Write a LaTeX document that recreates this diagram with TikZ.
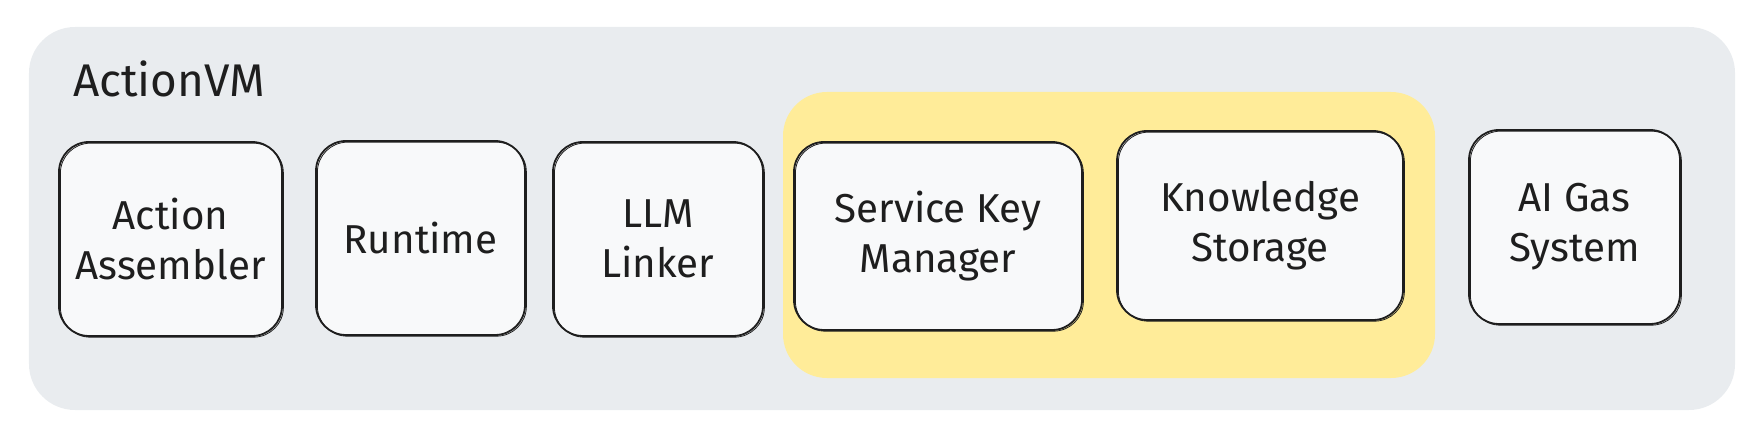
\documentclass[tikz,border=0pt]{standalone}
\usepackage{fontspec}
\setmainfont{Fira Sans}
\definecolor{vmgray}{HTML}{E9ECEF}
\definecolor{hiyellow}{HTML}{FFEC99}
\definecolor{boxfill}{HTML}{F8F9FA}
\definecolor{ink}{HTML}{1E1E1E}
\tikzset{
  container/.style={fill=vmgray, draw=none, rounded corners=46bp, inner sep=0, outer sep=0},
  highlight/.style={fill=hiyellow, draw=none, rounded corners=44bp, inner sep=0, outer sep=0},
  compbox/.style={fill=boxfill, draw=ink, line width=1.8bp, rounded corners=30bp,
    inner sep=0, outer sep=0, align=center, text=ink,
    font=\fontsize{40.5}{50}\selectfont,
    postaction={draw=ink, line width=0.8bp, fill=none, transform canvas={shift={(1.4bp,-1.2bp)}}}},
  titletext/.style={text=ink, inner sep=0, outer sep=0, font=\fontsize{46}{52}\selectfont}
}
\begin{document}
\begin{tikzpicture}[x=1bp, y=-1bp]
\useasboundingbox (0,0) rectangle (1762,446);
\node[container, minimum width=1706bp, minimum height=383bp] (vm) at (882,218.5) {};
\node[titletext, anchor=base west] (title) at (73,97) {ActionVM};
\node[highlight, minimum width=652bp, minimum height=286bp] (grp) at (1109,235) {};
\node[compbox, minimum width=223bp, minimum height=194bp] (aa) at (170.5,239) {Action\\Assembler};
\node[compbox, minimum width=209bp, minimum height=194bp] (rt) at (420.5,238) {Runtime};
\node[compbox, minimum width=210bp, minimum height=194bp] (llm) at (658,239) {LLM\\Linker};
\node[compbox, minimum width=288bp, minimum height=188bp] (skm) at (938,236) {Service Key\\Manager};
\node[compbox, minimum width=286bp, minimum height=189bp] (ks) at (1260,225.5) {Knowledge\\Storage};
\node[compbox, minimum width=211bp, minimum height=194bp] (ai) at (1574.5,227) {AI Gas\\System};
\end{tikzpicture}
\end{document}
